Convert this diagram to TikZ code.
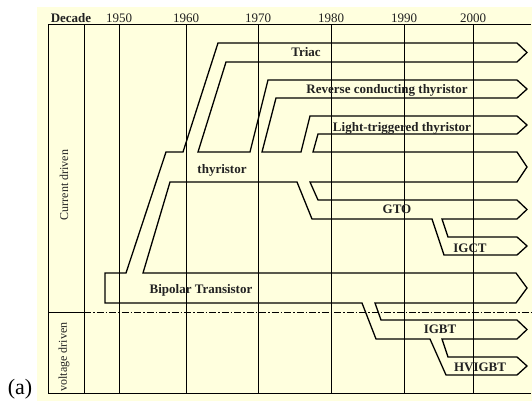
\documentclass[tikz,border=0pt]{standalone}
\usepackage{fontspec}
\setmainfont{Liberation Serif}
\definecolor{chartbg}{RGB}{255,255,222}
\definecolor{inkgray}{RGB}{34,34,34}
\begin{document}
\begin{tikzpicture}[x=1pt,y=-1pt]
\tikzstyle{grid} = [
 draw,
 line width=1pt
]
\tikzstyle{tube} = [
 draw,
 line width=1.3pt,
 line join=miter
]
\tikzstyle{device} = [
 text=inkgray,
 anchor=base,
 inner sep=0pt,
 font=\fontsize{13}{15}\selectfont\bfseries
]
\tikzstyle{decade} = [
 text=inkgray,
 anchor=base,
 inner sep=0pt,
 font=\fontsize{13}{15}\selectfont
]
\tikzstyle{drive} = [
 text=inkgray,
 inner sep=0pt,
 rotate=90,
 font=\fontsize{12}{14}\selectfont
]

\useasboundingbox (0,0) rectangle (532,401);
\fill[chartbg] (37,7) rectangle (532,401);

% frame and decade lines
\path[grid] (48,25) -- (531,25);
\path[grid] (48,393) -- (531,393);
\foreach \x in {48,84,119,186,258,331,404,473}
  \path[grid] (\x,25) -- (\x,393);
\path[grid] (48,312) -- (84,312);
\path[draw,line width=0.8pt,dash pattern=on 7pt off 2pt on 1.5pt off 2pt] (84,312) -- (531,312);

\node[decade,font=\fontsize{13}{15}\selectfont\bfseries] at (71,23) (dec) {Decade};
\node[decade] at (119,23) (y50) {1950};
\node[decade] at (186,23) (y60) {1960};
\node[decade] at (258,23) (y70) {1970};
\node[decade] at (331,23) (y80) {1980};
\node[decade] at (404,23) (y90) {1990};
\node[decade] at (473,23) (y00) {2000};

\node[drive] at (64,185) (cur) {Current driven};
\node[drive] at (64,357) (volt) {voltage driven};

% device family tree
\path[tube] (517,43) -- (218,43) -- (183,152) -- (166,152) -- (126,273)
 -- (105,273) -- (105,303) -- (362,303) -- (376,339) -- (430,339)
 -- (446,375) -- (517,375) -- (527,366) -- (517,357) -- (448,357)
 -- (442,339) -- (517,339) -- (527,329.5) -- (517,320) -- (381,320)
 -- (375,303) -- (516,303) -- (527,288) -- (516,273) -- (143,273)
 -- (170,182) -- (297,182) -- (312,219) -- (432,219) -- (444,255)
 -- (517,255) -- (527,246) -- (517,237) -- (448,237) -- (442,219)
 -- (517,219) -- (527,209.5) -- (517,200) -- (318,200) -- (310,182)
 -- (517,182) -- (527,167) -- (517,152) -- (313,152) -- (318,134)
 -- (517,134) -- (527,125) -- (517,116) -- (310,116) -- (301,152)
 -- (262,152) -- (276,98) -- (517,98) -- (527,89) -- (517,80)
 -- (268,80) -- (250,152) -- (198,152) -- (226,62) -- (517,62)
 -- (527,52.5) -- cycle;

\node[device] at (306,57) (triac) {Triac};
\node[device] at (387,94) (rct) {Reverse conducting thyristor};
\node[device] at (402,131) (ltt) {Light-triggered thyristor};
\node[device] at (222,173) (thy) {thyristor};
\node[device] at (397,213) (gto) {GTO};
\node[device] at (470,252) (igct) {IGCT};
\node[device] at (201,293) (bjt) {Bipolar Transistor};
\node[device] at (440,333) (igbt) {IGBT};
\node[device] at (480,371) (hvigbt) {HVIGBT};

\node[anchor=base,inner sep=0pt,font=\fontsize{22}{26}\selectfont] at (20,394) (tag) {(a)};
\end{tikzpicture}
\end{document}
